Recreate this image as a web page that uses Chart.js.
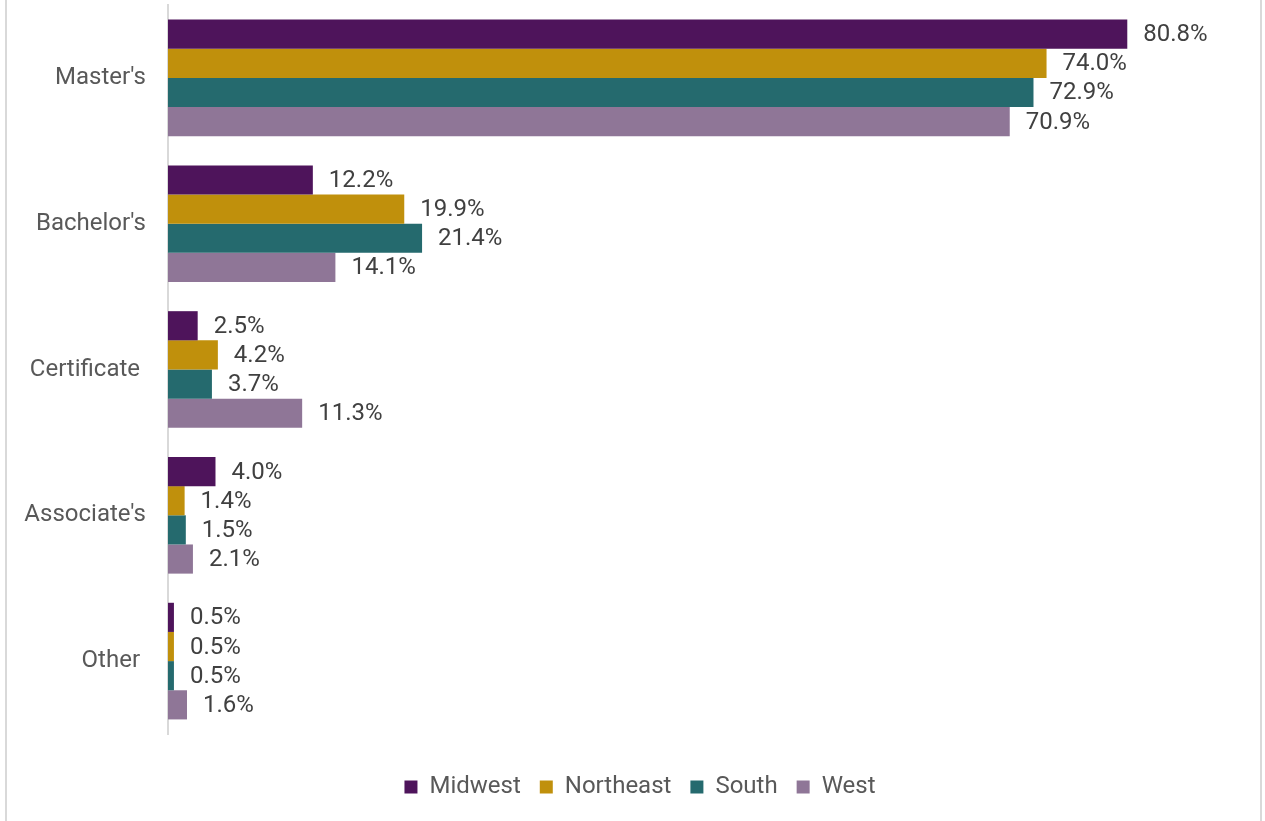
<!DOCTYPE html>
<html lang="en">
<head>
  <meta charset="UTF-8">
  <title>Degree by region</title>
  <style>
    body {
      margin: 0;
      padding: 0;
      background: #fff;
      font-family: Roboto, Arial, sans-serif;
    }
    .frame {
      position: relative;
      width: 1265px;
      height: 821px;
      overflow: hidden;
    }
    .frame canvas {
      position: absolute;
      left: 0;
      top: 0;
    }
    /* thin grey edges of the original chart box */
    .edge {
      position: absolute;
      top: 0;
      width: 2px;
      height: 821px;
      background: #d9d9d9;
    }
  </style>
</head>
<body>
  <div class="frame">
    <div class="edge" style="left:5px"></div>
    <div class="edge" style="left:1260px"></div>
    <canvas id="degreeChart" width="1265" height="821"></canvas>
  </div>

  <script src="https://cdn.jsdelivr.net/npm/chart.js"></script>
  <script>
    // values (percent)
    var categories = ["Master's", "Bachelor's", 'Certificate ', "Associate's", 'Other '];
    var regions = ['Midwest', 'Northeast', 'South', 'West'];
    var midwest = [80.8, 12.2, 2.5, 4.0, 0.5];
    var northeast = [74.0, 19.9, 4.2, 1.4, 0.5];
    var south = [72.9, 21.4, 3.7, 1.5, 0.5];
    var west = [70.9, 14.1, 11.3, 2.1, 1.6];
    var colors = ['#4e145b', '#c0900c', '#256a6e', '#8f7697'];

    // draws the "xx.x%" text after each bar
    var valueLabels = {
      id: 'valueLabels',
      afterDatasetsDraw: function(chart) {
        var ctx = chart.ctx;
        ctx.save();
        ctx.font = '24px Roboto';
        ctx.fillStyle = '#404040';
        ctx.textAlign = 'left';
        ctx.textBaseline = 'middle';
        chart.data.datasets.forEach(function(ds, i) {
          chart.getDatasetMeta(i).data.forEach(function(bar, j) {
            ctx.fillText(ds.data[j].toFixed(1) + '%', bar.x + 16, bar.y + 1);
          });
        });
        ctx.restore();
      }
    };

    var seriesValues = [midwest, northeast, south, west];
    var datasets = regions.map(function(name, i) {
      return {
        label: name,
        data: seriesValues[i],
        backgroundColor: colors[i],
        borderWidth: 0,
        categoryPercentage: 0.8,
        barPercentage: 1.0
      };
    });

    var ctx = document.getElementById('degreeChart').getContext('2d');
    var chart = new Chart(ctx, {
      type: 'bar',
      data: { labels: categories, datasets: datasets },
      plugins: [valueLabels],
      options: {
        indexAxis: 'y',
        responsive: false,
        animation: false,
        // negative right padding lets the legend sit centred like the original
        layout: { padding: { top: 5, right: -15, bottom: 12, left: 0 } },
        scales: {
          x: {
            min: 0,
            max: 92.4,
            display: true,
            ticks: { display: false },
            grid: { display: false, drawTicks: false },
            border: { display: false },
            afterFit: function(scale) { scale.height = 22; }
          },
          y: {
            grid: { display: false, drawTicks: false },
            border: { display: true, color: '#d9d9d9', width: 2 },
            ticks: {
              color: '#595959',
              font: { family: 'Roboto', size: 24 },
              padding: 22
            },
            afterFit: function(scale) {
              scale.width = 168;
              scale.paddingTop = 0;
              scale.paddingBottom = 0;
            }
          }
        },
        plugins: {
          tooltip: { enabled: false },
          legend: {
            position: 'bottom',
            labels: {
              boxWidth: 13,
              boxHeight: 13,
              padding: 19,
              color: '#595959',
              font: { family: 'Roboto', size: 24 }
            }
          }
        }
      }
    });
  </script>
</body>
</html>
